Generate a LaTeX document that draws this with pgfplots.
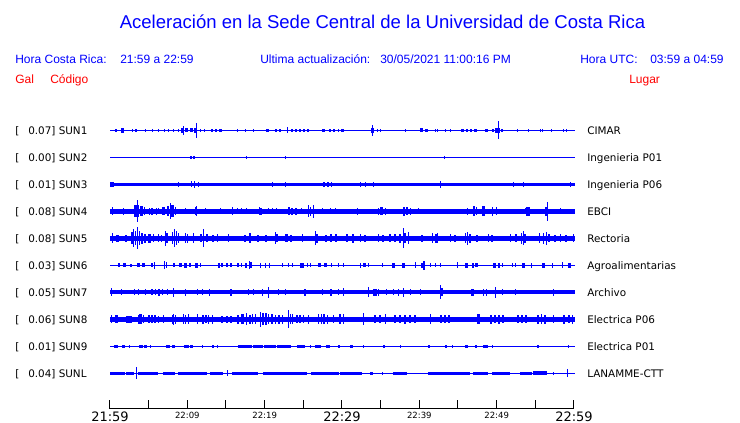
\documentclass[border=0pt]{standalone}
\usepackage{pgfplots}
\pgfplotsset{compat=1.18}
\usepackage{pgfplotstable}
\usepackage{fontspec}
\setmainfont{Liberation Sans}
\newfontfamily\dejavu{DejaVu Sans}
\definecolor{sblue}{RGB}{0,0,255}
\definecolor{sred}{RGB}{255,0,0}

% envelope mark: rectangle of half-width w px and half-height h px (1 px = 0.75 pt)
\pgfdeclareplotmark{env}{%
  \pgfpathrectangle{\pgfpoint{-0.75pt*\envw}{-0.75pt*\envh}}{\pgfpoint{1.5pt*\envw}{1.5pt*\envh}}%
  \pgfusepathqfill}

\pgfplotsset{
  trace/.style={scatter, only marks, mark=env, point meta=explicit,
    scatter/@pre marker code/.code={\scope[fill=sblue,draw=none]},
    scatter/@post marker code/.code={\endscope},
    visualization depends on={\thisrow{w}\as\envw},
    visualization depends on={\thisrow{h}\as\envh}},
}

% columns: px = centre of segment (pixel column, 110 = 21:59, 574 = 22:59), w = half width, h = half amplitude
\pgfplotstableread{
px w h
342.5 232.5 0.7
116 0.8 1.5
122 1.5 2.3
132 0.5 1.5
136 0.8 1.5
145 0.5 1.5
152 0.5 1.5
158 0.5 1.5
164 0.5 1.5
168 0.5 1.5
173 0.5 1.5
178 0.5 1.5
182 1.5 2.3
186 1.5 2
183 0.5 4.5
191.5 1.5 2
195 1.5 2.2
196 0.5 7.5
200 0.5 1.5
204 0.5 1.5
212 1.2 1.8
216 1.2 1.8
220 1.5 1.8
237 0.5 1.5
245 0.5 1.5
253 0.5 1.5
267.5 1.2 1.8
276 0.8 1.6
280 1.2 1.6
287 0.5 3
292 0.6 1.8
296 0.6 1.8
300 0.6 1.8
304 0.6 1.8
308 0.6 1.8
323.5 1.2 1.8
330 0.8 1.5
334 1.2 1.6
338 0.5 1.5
342 1.5 1.8
372 0.5 5.3
372 1.5 2.3
377 0.5 1.5
380 0.5 1.5
405 0.5 1.5
421.5 1.2 2
426.5 1.2 1.5
435 0.5 1.5
438 0.5 1.5
445 0.5 1.5
450 0.5 1.5
462.5 1.2 1.8
467 0.8 1.6
471 1.2 1.8
475.5 1.2 1.8
486.5 1.2 1.5
493 1.2 1.8
497.5 2.5 2.3
502 1.2 1.8
498 0.5 9
517 0.5 1.5
528 0.5 1.5
540 0.5 1.5
542 0.5 1.5
551 0.5 1.5
563 0.5 1.5
566 0.5 1.5
}\tA
\pgfplotstableread{
px w h
342.5 232.5 0.7
191 0.8 1.8
194 0.8 1.8
247 0.5 1.3
285 0.5 1.3
444 0.5 1.3
}\tB
\pgfplotstableread{
px w h
342.5 232.5 1.8
112 2 2.2
178 0.5 2.5
191.5 0.8 3
194.5 0.8 3.2
198 0.5 2.5
272 0.5 2.4
285 0.5 2.6
324 0.8 2.5
328 1.2 2.8
332 0.5 2.5
360 0.5 2.3
365 0.5 2.3
373 0.5 2.3
440 0.5 3.3
513 0.5 2.3
523 0.5 2.3
570 0.5 2.3
}\tC
\pgfplotstableread{
px w h
342.5 232.5 2.3
112 0.5 4
123 0.5 3.5
137.5 0.5 11
136 2.5 6
141.5 1.5 5
144 0.5 4
149 0.5 3.5
152 1.2 3.5
156 0.5 3.5
158 0.5 3
163.5 1.2 4
168 0.8 5
170.5 0.5 8
172.5 1.2 6
175 0.5 4
185 0.5 3
195 0.5 4
196.5 0.8 5
205 0.5 3
220 0.5 3
232 0.5 4
237 0.5 3
242 0.5 3
247 0.5 3
259 0.5 4
261 0.8 3.5
268 0.5 3
272 0.5 3
277 0.5 3
289 0.8 4
292 0.8 3.5
296 1.2 3.5
301 0.5 3
308 0.5 6
310.5 0.8 4.5
313 0.5 6.5
322 0.5 3
330 0.5 3
335 0.5 3
357 0.5 3.5
378 0.5 3.5
381.5 1.2 4
385 0.5 3.5
404 1 4.5
407 1 4
410 0.5 3.5
418 0.5 3
467 0.5 3.5
474 1.2 5
477 0.5 4
483.5 1.2 5
493 0.5 4.5
496.5 0.8 4
525 0.5 3
527.5 2 4.5
547.5 0.5 9.3
546 1.2 4.5
560 0.5 3
}\tD
\pgfplotstableread{
px w h
342.5 232.5 2.6
112 0.5 5
117 1.5 3.5
126 1.2 3.5
132 0.8 6
133.5 0.5 9
135.5 0.8 7
137 0.5 11
139.5 0.8 7
142 0.8 5.5
145 1.2 4.5
149 1.5 4.5
153 0.5 4
158 0.5 4
161 0.5 3.5
165 0.5 7.5
167 0.8 5
172.5 0.5 6
174.5 0.5 9
176.5 0.5 7
178.5 0.8 5
185 0.5 5
187.5 0.8 4.5
193 0.5 5
203 0.5 9
201 0.8 4
207 1.2 4
213 1.2 3.5
218 0.5 4
228 0.5 4
245 0.8 3.5
250 1.2 5
258 0.8 3.5
266 0.8 3.5
275 0.5 6
277 0.8 4
286.5 1.2 4
291 0.8 3.5
302 0.5 4
315 0.5 7
317 1.2 4.5
326 0.8 3.5
331 0.8 4
336 0.8 4
347 1.2 4
353 1.2 4.5
360 0.5 4
365 0.8 3.5
378 0.5 4
383 0.8 3.5
390 1.2 4
395 0.8 4
400 0.8 4.5
403 0.5 10
405 0.8 5
408 0.5 6
422 0.8 3.5
432 0.5 5
436 0.8 4.5
438 0.5 5
450 0.5 4
455 0.8 3.5
465 0.5 5
467 0.5 6.5
470 0.8 4.5
477 0.8 3.5
488 0.5 4
492 1.2 3.5
510 0.5 4
516 1.2 4
521 0.5 5.5
523 0.5 7
525 0.8 4.5
539 0.5 5
543 0.5 5.5
546 0.5 6.5
549 0.8 4
555 0.8 3.5
560 0.5 4
566 0.8 3.5
573 0.5 4
}\tE
\pgfplotstableread{
px w h
342.5 232.5 0.7
119 0.8 2
124 1.5 2
131 1.2 1.7
138.5 1.2 2
143.5 1.2 2
152 0.8 2
154 0.5 3.5
164.5 0.5 4
166.5 0.8 3
174 1.2 2
180 1.5 2
185 1.5 2.3
190 0.8 2
196 1.5 2.3
200.5 0.8 2
219 1.2 2.3
222 0.8 2
227 1.2 2
231 0.8 2
238 0.8 2
241.5 0.8 2
246 1.2 2.3
249 0.5 4
251 0.8 3
260 0.5 2.5
265.5 0.8 2.3
269.5 0.8 2.3
282 0.5 2
288 0.5 2
293 0.5 2
302 2 2.8
307 0.5 2
310 0.5 2
319 1.5 2
325 1.5 2
332 0.5 2
338 0.5 2
343 0.5 2
360 0.5 2.5
364.5 1.2 2
368 0.5 2
383 0.5 2
393.5 1.2 2.8
403.5 1.5 2.3
415 0.5 3
422 1.2 2.3
424 0.8 4.5
430 0.5 2
435 0.5 2
440 0.5 2
457.5 0.8 3
466.5 1.2 2.8
473 0.8 2.3
477 1.5 2
494 1.5 2.3
499 1.2 2.3
502.5 0.8 2
512 0.5 2
515 0.5 2
523.5 1.2 2.3
532 0.5 2.5
543.5 1.2 2.8
552.5 0.8 2.3
562 0.5 3
569.5 1.2 2.8
}\tF
\pgfplotstableread{
px w h
342.5 232.5 2
111 0.5 4
121 0.5 3
134 0.5 3
138 0.5 3
145 0.5 3
152 0.8 3
155 0.5 3
159 0.8 3.5
162 0.5 3
167 0.5 3
173 0.5 4.5
185 0.5 3.5
197 0.5 3
202 0.5 3
210 0.5 3.5
231 1.2 3.5
248 0.5 3
254 0.5 3
262 0.5 3.5
268 0.5 5.5
278 0.5 3
285 0.5 3
305 0.5 3.5
322 0.5 3
331 1.2 3.5
338 0.5 3
343 0.5 4
368 0.5 5
373 0.5 3.5
375.5 1.2 3.5
378 0.5 3.5
387 0.5 3
393 0.5 3
398 0.5 3.5
403 0.5 4.5
410 0.5 3
420 0.5 3
440 0.5 7
442 0.8 4
472.5 1.2 3.5
483 0.5 3.5
486 0.5 3.5
495 0.5 5.5
502 0.5 3
515 0.5 3
553 0.5 3.5
}\tG
\pgfplotstableread{
px w h
342.5 232.5 2.7
111 0.5 4
116.5 1.5 4
128.5 3 3.5
138 0.5 4.5
140.5 1.5 5
143 0.5 4
149 0.8 4
152 0.8 4
155 0.8 4
158 0.5 3.5
163 0.5 4
172 0.5 4.5
173.5 0.5 5.5
175 0.5 4.5
183 0.5 5
185.5 0.8 4.5
188 0.5 5
197 0.5 5
203 0.8 4.5
206 0.8 4
208 0.5 4.5
212 0.5 4.5
222 1.2 3.5
227 1.2 3.5
231 0.8 3.5
238 0.8 4.5
241 0.5 5
243 0.8 5
247 0.5 6
250 0.8 4.5
252.5 0.8 5
255.5 0.8 5
260 0.5 7.5
263 0.8 6
266 0.8 6
268 0.5 5
272 0.8 5
275 0.5 4.5
279 0.8 4.5
282 0.5 4.5
288 0.5 9
290 0.5 5
292 0.5 5
297 0.8 4
300 0.8 4
303 0.5 4
308 0.5 4.5
318.5 0.8 5
321 0.5 5
324 0.8 5
327 0.5 4.5
333 0.5 4
340 0.8 5
343 0.5 5
363 0.5 6
375 1.2 4
380 1.2 4
385 0.5 5
395 1.2 4
400 1.2 4
405 0.8 4.5
410 0.8 4
415 0.8 4
430.5 0.8 5
441 0.8 4
445 0.8 4
449 0.8 4
478.5 1.2 5
491 1.2 4.5
495 0.8 4
499 0.8 4.5
503 0.8 4
518 0.8 4
522 0.8 4
526 0.8 4
538 0.8 4.5
541.5 0.8 5
545 0.8 4.5
553 0.5 4
564 0.8 4.5
569 0.8 4
572.5 0.8 4.5
}\tH
\pgfplotstableread{
px w h
342.5 232.5 0.7
115.5 2 1.5
123.5 1.2 1.5
129 0.5 1.5
141 2 1.6
145 1.5 1.5
150 0.5 1.5
168 2 1.6
173 1.5 1.5
186 2.5 1.6
191 1.5 1.5
202 0.5 1.5
213 1.2 1.5
218 0.5 1.5
245 7 1.4
258 5 1.5
270 6 1.4
284 7 1.5
301 4 1.5
310 0.5 1.5
318.5 3 1.5
327.5 2 1.5
339 1.2 1.5
351.5 1.2 1.8
363 0.5 1.8
384 0.8 1.7
400 0.5 1.5
429 0.8 1.7
446 0.8 1.5
452 0.5 1.5
466.5 1.2 1.7
476 0.8 1.7
485 2.5 1.7
492 0.5 1.5
538 1.2 1.9
568 0.5 1.5
}\tI
\pgfplotstableread{
px w h
342.5 232.5 0.7
117.5 7.5 1.9
130 4 1.7
136 0.5 6
148 10 1.7
169 6 1.7
192.5 14.5 1.7
216.5 6.5 1.7
227 0.5 3
245 13 1.9
285 22 1.7
325 14 1.7
351 11 1.9
371.5 1.2 1.7
383 0.5 1.7
400 7 1.7
449 21 1.9
480.5 7.5 1.9
501 9 1.7
526 6 1.7
540 7 2
553 0.5 1.7
567 0.5 4
}\tL

\newcommand{\trace}[2]{\addplot[trace] table[x expr=(\thisrow{px}-110)/7.7333, y expr=#2, meta=h] {#1};}

\begin{document}
\begin{tikzpicture}
\path[use as bounding box] (0,0) rectangle (555pt,317.25pt);
\begin{axis}[at={(0,0)}, anchor=south west, scale only axis,
  width=555pt, height=317.25pt,
  xmin=-14.2241, xmax=81.4655, ymin=0, ymax=423, y dir=reverse,
  hide axis, clip=false, point meta min=0, point meta max=12]
\trace{\tA}{130.5}
\trace{\tB}{157.5}
\trace{\tC}{184.5}
\trace{\tD}{211.5}
\trace{\tE}{238.5}
\trace{\tF}{265.5}
\trace{\tG}{292.5}
\trace{\tH}{319.5}
\trace{\tI}{346.5}
\trace{\tL}{373.5}
\end{axis}

\begin{axis}[at={(82.5pt,10.5pt)}, anchor=south west, scale only axis,
  width=348pt, height=20pt, xmin=0, xmax=60, ymin=0, ymax=1,
  axis x line=bottom, axis y line=none, x axis line style={-, black, line width=0.75pt},
  xtick={0,5,...,60}, tick align=inside, major tick length=6.5pt,
  tick style={black, line width=0.75pt},
  xticklabels={{\fontsize{9.75pt}{11pt}\selectfont 21:59},{},{22:09},{},{22:19},{},{\fontsize{9.75pt}{11pt}\selectfont 22:29},{},{22:39},{},{22:49},{},{\fontsize{9.75pt}{11pt}\selectfont 22:59}},
  xticklabel style={font=\dejavu\fontsize{6.4pt}{7pt}\selectfont, anchor=north, inner sep=0pt, yshift=-2pt}]
\end{axis}

\begin{scope}[shift={(0,317.25pt)}, x=0.75pt, y=-0.75pt]
\node[anchor=base, text=sblue, inner sep=0pt, font=\fontsize{13.9pt}{17pt}\selectfont] at (382.5,28.5) {Aceleración en la Sede Central de la Universidad de Costa Rica};
\begin{scope}[every node/.style={anchor=base west, inner sep=0pt, text=sblue, font=\fontsize{9pt}{11pt}\selectfont}]
\node at (15,64) {Hora Costa Rica:};
\node at (120,64) {21:59 a 22:59};
\node at (260,64) {Ultima actualización:};
\node at (380,64) {30/05/2021 11:00:16 PM};
\node at (580,64) {Hora UTC:};
\node at (650,64) {03:59 a 04:59};
\node[text=sred] at (15,84) {Gal};
\node[text=sred] at (50,84) {Código};
\node[text=sred] at (629,84) {Lugar};
\end{scope}
\begin{scope}[every node/.style={anchor=base west, inner sep=0pt, text=black, font=\dejavu\fontsize{7.8pt}{9pt}\selectfont}]
\foreach \y/\v/\c/\p in {130.5/0.07/SUN1/CIMAR, 157.5/0.00/SUN2/Ingenieria P01, 184.5/0.01/SUN3/Ingenieria P06, 211.5/0.08/SUN4/EBCI, 238.5/0.08/SUN5/Rectoria, 265.5/0.03/SUN6/Agroalimentarias, 292.5/0.05/SUN7/Archivo, 319.5/0.06/SUN8/Electrica P06, 346.5/0.01/SUN9/Electrica P01, 373.5/0.04/SUNL/LANAMME-CTT}{
  \node at (15,\y+3.8) {[};
  \node at (28,\y+3.8) {\v] \c};
  \node at (587,\y+3.8) {\p};
}
\end{scope}
\end{scope}
\end{tikzpicture}
\end{document}
